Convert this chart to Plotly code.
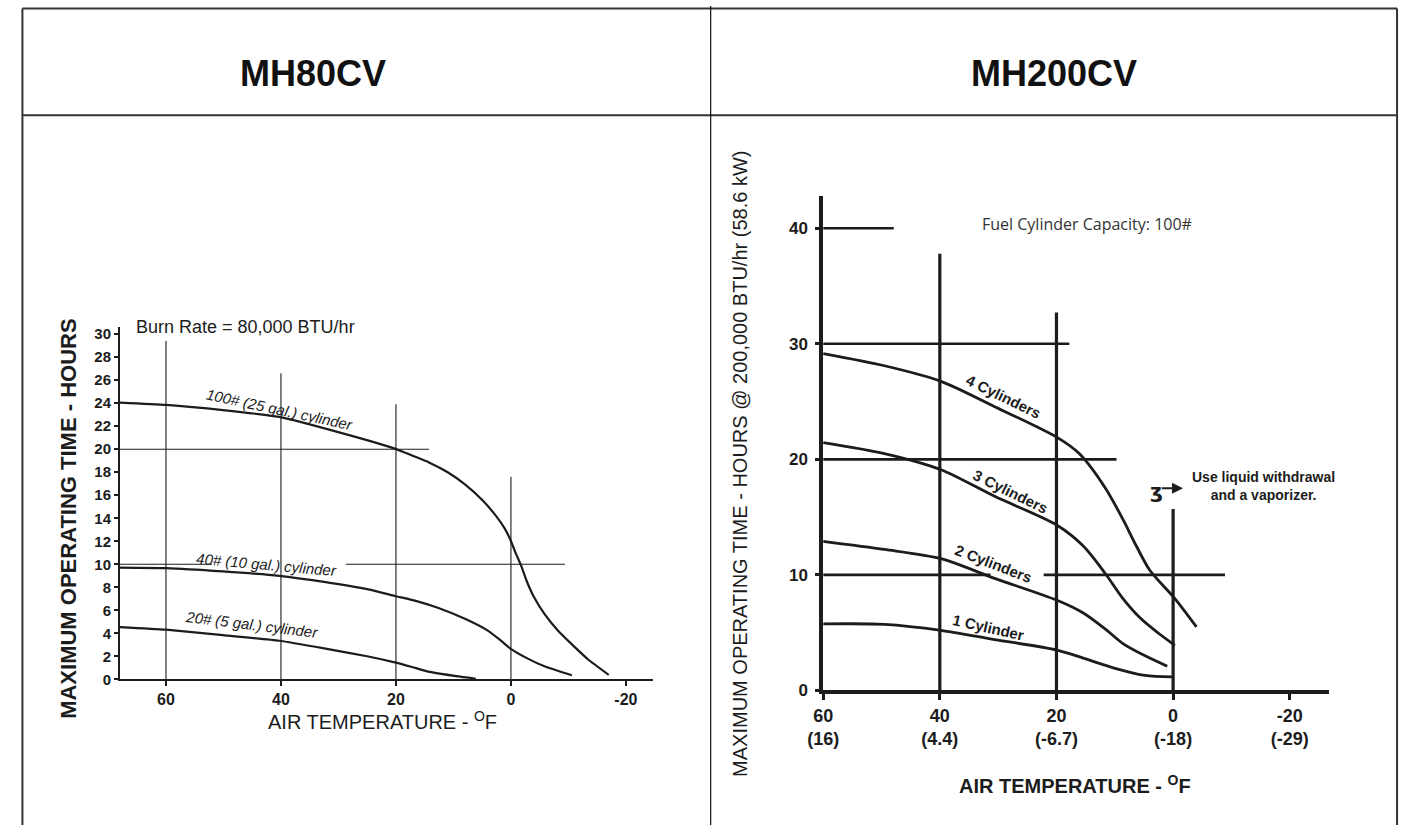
import plotly.graph_objects as go

# ---------------- LEFT CHART (MH80CV) ----------------
l_xticks = [60, 40, 20, 0, -20]
l_xlabels = ["60", "40", "20", "0", "-20"]
l_yticks = list(range(0, 31, 2))

l100_temp = [68.0, 60, 50.1, 40.3, 30.2, 20.2, 17.2, 14.25, 11.0, 8.0, 4.9, 2.6, 1.07, 0.15,
             -0.85, -1.84, -2.76, -3.91, -5.83, -8.12, -10.42, -13.49, -17.0]
l100_hours = [24.05, 23.85, 23.4, 22.8, 21.5, 20.05, 19.45, 18.85, 18.0, 16.95, 15.55, 14.2, 13.1,
              12.2, 10.95, 9.8, 8.53, 7.25, 5.69, 4.27, 3.13, 1.71, 0.4]

l40_temp = [68.0, 60, 50.1, 40.3, 32.5, 24.8, 20.2, 16.4, 12.6, 8.0, 4.1, 1.84, 0.15, -2.76, -5.83, -10.6]
l40_hours = [9.72, 9.67, 9.38, 9.0, 8.47, 7.82, 7.25, 6.8, 6.2, 5.26, 4.26, 3.41, 2.7, 1.85, 1.14, 0.36]

l20_temp = [68.0, 60, 50.1, 40.3, 32.5, 24.8, 20.2, 17.2, 14.1, 9.5, 6.1]
l20_hours = [4.55, 4.32, 3.84, 3.36, 2.7, 1.99, 1.48, 1.08, 0.65, 0.28, 0.06]

# reference lines of the left chart
l_vline_x = [60, 40, 20, 0]
l_vline_top = [29.4, 26.6, 23.9, 17.6]
l_hline_y = [20, 10, 10]
l_hline_from = [68.0, 68.0, 28.7]
l_hline_to = [14.25, 52.0, -9.4]

# ---------------- RIGHT CHART (MH200CV) ----------------
r_xticks = [60, 40, 20, 0, -20]
r_xlabels = ["60<br>(16)", "40<br>(4.4)", "20<br>(-6.7)", "0<br>(-18)", "-20<br>(-29)"]
r_yticks = [0, 10, 20, 30, 40]

r4_temp = [60, 49.5, 39.8, 30.6, 19.9, 16.1, 11.6, 8.6, 6.3, 4.0, -0.3, -4.0]
r4_hours = [29.15, 28.1, 26.75, 24.56, 21.9, 20.5, 17.5, 14.8, 12.5, 10.4, 7.95, 5.5]

r3_temp = [60, 49.5, 39.8, 30.6, 19.9, 15.4, 11.6, 8.6, 5.5, 2.5, -0.3]
r3_hours = [21.45, 20.5, 19.1, 16.8, 14.3, 12.5, 10.1, 7.95, 6.2, 4.95, 3.9]

r2_temp = [60, 49.5, 39.8, 30.6, 19.9, 15.4, 11.6, 8.6, 4.8, 1.0]
r2_hours = [12.9, 12.2, 11.4, 9.7, 7.8, 6.7, 5.3, 4.06, 3.0, 2.1]

r1_temp = [60, 49.5, 39.8, 30.6, 19.9, 15.4, 10.1, 4.8, 0.2]
r1_hours = [5.76, 5.72, 5.2, 4.4, 3.5, 2.8, 1.94, 1.3, 1.17]

r_vline_x = [40, 20, 0]
r_vline_top = [37.8, 32.7, 15.7]
r_hline_y = [40, 30, 20, 10, 10]
r_hline_from = [60, 60, 60, 60, 22.2]
r_hline_to = [47.9, 17.8, 9.7, 31.3, -8.9]

INK = "#1c1c1c"
FONT = "Liberation Sans, Arial, sans-serif"

fig = go.Figure()


def line(x, y, xa, ya, w, shape="linear", smooth=0.6):
    fig.add_trace(go.Scatter(
        x=x, y=y, xaxis=xa, yaxis=ya, mode="lines",
        line=dict(color=INK, width=w, shape=shape, smoothing=smooth),
        hoverinfo="skip", showlegend=False))


# left reference lines
for xv, top in zip(l_vline_x, l_vline_top):
    line([xv, xv], [0, top], "x", "y", 1.1)
for yv, a, b in zip(l_hline_y, l_hline_from, l_hline_to):
    line([a, b], [yv, yv], "x", "y", 1.1)
# left curves
for tx, hy in [(l100_temp, l100_hours), (l40_temp, l40_hours), (l20_temp, l20_hours)]:
    line(tx, hy, "x", "y", 2.2, "spline", 0.5)

# right reference lines
for xv, top in zip(r_vline_x, r_vline_top):
    line([xv, xv], [-0.5, top], "x2", "y2", 3.2)
for yv, a, b in zip(r_hline_y, r_hline_from, r_hline_to):
    line([a, b], [yv, yv], "x2", "y2", 2.6)
# right curves
for tx, hy in [(r4_temp, r4_hours), (r3_temp, r3_hours), (r2_temp, r2_hours), (r1_temp, r1_hours)]:
    line(tx, hy, "x2", "y2", 2.8, "spline", 0.8)

W, H = 1401, 835

fig.update_layout(
    width=W, height=H, margin=dict(l=0, r=0, t=0, b=0),
    paper_bgcolor="white", plot_bgcolor="rgba(0,0,0,0)",
    font=dict(family=FONT, color=INK),
    showlegend=False,
    xaxis=dict(domain=[105 / W, 644.3 / W], range=[68.03, -24.7], anchor="y",
               tickvals=l_xticks, ticktext=l_xlabels, ticks="outside", ticklen=5, tickwidth=1.5,
               tickcolor=INK, showline=True, linewidth=1.6, linecolor=INK, showgrid=False,
               zeroline=False, tickfont=dict(size=16, weight="bold", family=FONT, color=INK)),
    yaxis=dict(domain=[1 - 687.3 / H, 1 - 329.9 / H], range=[0, 30.6], anchor="x",
               tickvals=l_yticks, ticks="outside", ticklen=4, tickwidth=1.5, tickcolor=INK,
               showline=True, linewidth=1.6, linecolor=INK, showgrid=False, zeroline=False,
               tickfont=dict(size=15, weight="bold", family=FONT, color=INK)),
    xaxis2=dict(domain=[816.5 / W, 1328 / W], range=[60, -26.7], anchor="y2",
                tickvals=r_xticks, ticktext=r_xlabels, ticks="outside", ticklen=6, tickwidth=3,
                tickcolor=INK, showline=True, linewidth=3.5, linecolor=INK, showgrid=False,
                zeroline=False, tickfont=dict(size=18, weight="bold", family=FONT, color=INK)),
    yaxis2=dict(domain=[1 - 698.5 / H, 1 - 196.7 / H], range=[0, 42.8], anchor="x2",
                tickvals=r_yticks, ticks="outside", ticklen=4, tickwidth=3, tickcolor=INK,
                showline=True, linewidth=3.5, linecolor=INK, showgrid=False, zeroline=False,
                ticklabelstandoff=4,
                tickfont=dict(size=17, weight="bold", family=FONT, color=INK)),
)

# table frame
frame = dict(type="line", xref="paper", yref="paper", line=dict(color="#333333", width=2))
fig.add_shape(**frame, x0=6.5 / W, x1=1397 / W, y0=1 - 6.5 / H, y1=1 - 6.5 / H)
fig.add_shape(**frame, x0=6.5 / W, x1=1397 / W, y0=1 - 115 / H, y1=1 - 115 / H)
fig.add_shape(**frame, x0=6.5 / W, x1=6.5 / W, y0=0, y1=1 - 6.5 / H)
fig.add_shape(**frame, x0=1397 / W, x1=1397 / W, y0=0, y1=1 - 6.5 / H)
fig.add_shape(type="line", xref="paper", yref="paper", line=dict(color="#111111", width=1.2),
              x0=702.7 / W, x1=702.7 / W, y0=0, y1=1 - 4 / H)

ann = []
C = dict(xanchor="center", yanchor="middle", showarrow=False)
ann.append(dict(text="<b>MH80CV</b>", x=300 / W, y=1 - 73 / H, xref="paper", yref="paper", **C,
                font=dict(size=36, family=FONT, color="#111")))
ann.append(dict(text="<b>MH200CV</b>", x=1050 / W, y=1 - 73 / H, xref="paper", yref="paper", **C,
                font=dict(size=36, family=FONT, color="#111")))

# left texts
ann.append(dict(text="Burn Rate = 80,000 BTU/hr", x=65.6, y=30.6, xref="x", yref="y",
                xanchor="left", yanchor="middle", showarrow=False,
                font=dict(size=18, family=FONT, color=INK)))
ann.append(dict(text="100# (25 gal.) cylinder", x=40.2, y=23.46, xref="x", yref="y", **C,
                textangle=12, font=dict(size=15, style="italic", family=FONT, color=INK)))
ann.append(dict(text="40# (10 gal.) cylinder", x=42.5, y=9.95, xref="x", yref="y", **C,
                textangle=5, font=dict(size=15, style="italic", family=FONT, color=INK)))
ann.append(dict(text="20# (5 gal.) cylinder", x=45, y=4.75, xref="x", yref="y", **C,
                textangle=7, font=dict(size=15, style="italic", family=FONT, color=INK)))
ann.append(dict(text="<b>MAXIMUM OPERATING TIME - HOURS</b>", x=53 / W, y=1 - 524 / H,
                xref="paper", yref="paper", textangle=-90, **C,
                font=dict(size=22, family=FONT, color=INK)))
ann.append(dict(text="AIR TEMPERATURE - <sup>O</sup>F", x=371 / W, y=1 - 728.7 / H,
                xref="paper", yref="paper", **C,
                font=dict(size=20, family=FONT, color=INK)))

# right texts
ann.append(dict(text="Fuel Cylinder Capacity: 100#", x=14.8, y=40.36, xref="x2", yref="y2", **C,
                font=dict(size=16, family="Open Sans, Noto Sans, sans-serif", color="#333")))
ann.append(dict(text="4 Cylinders", x=29.1, y=25.4, xref="x2", yref="y2", textangle=26, **C,
                font=dict(size=15, weight="bold", family=FONT, color=INK)))
ann.append(dict(text="3 Cylinders", x=27.9, y=17.2, xref="x2", yref="y2", textangle=26, **C,
                font=dict(size=15, weight="bold", family=FONT, color=INK)))
ann.append(dict(text="2 Cylinders", x=30.85, y=10.97, xref="x2", yref="y2", textangle=21, **C,
                font=dict(size=15, weight="bold", family=FONT, color=INK)))
ann.append(dict(text="1 Cylinder", x=31.6, y=5.45, xref="x2", yref="y2", textangle=12.7, **C,
                font=dict(size=15, weight="bold", family=FONT, color=INK)))
ann.append(dict(text="<b>Use liquid withdrawal<br>and a vaporizer.</b>", x=-15.55, y=17.7,
                xref="x2", yref="y2", align="center", **C,
                font=dict(size=14, family=FONT, color=INK)))
ann.append(dict(text="<b>ʒ</b>", x=2.9, y=17.3, xref="x2", yref="y2", **C,
                font=dict(size=20, family="DejaVu Sans, sans-serif", color=INK)))
ann.append(dict(text="", x=-1.7, y=17.5, ax=2.2, ay=17.5, xref="x2", yref="y2",
                axref="x2", ayref="y2", showarrow=True, arrowhead=2, arrowsize=1,
                arrowwidth=2.2, arrowcolor=INK))
ann.append(dict(text="MAXIMUM OPERATING TIME - HOURS @ 200,000 BTU/hr (58.6 kW)", x=733 / W,
                y=1 - 469 / H, xref="paper", yref="paper", textangle=-90, **C,
                font=dict(size=20, family=FONT, color=INK)))
ann.append(dict(text="<b>AIR TEMPERATURE - <sup>O</sup>F</b>", x=1071 / W, y=1 - 794 / H,
                xref="paper", yref="paper", **C,
                font=dict(size=20, family=FONT, color=INK)))

fig.update_layout(annotations=ann)
fig.write_html("out.html", config={"displayModeBar": False},
               post_script="document.body.style.margin='0';document.body.style.overflow='hidden';")
